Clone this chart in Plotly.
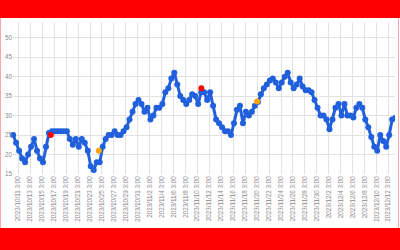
import plotly.graph_objects as go
import pandas as pd

# half-day readings starting 2023-10-10 06:00
values = [
    25, 23, 21, 19, 18, 20, 22, 24, 21, 19,
    18, 22, 25.5, 26, 26, 26, 26, 26, 26, 24,
    22.5, 24, 22, 24, 23, 21, 17, 16, 18, 18,
    22, 24, 25, 25, 26, 25, 25, 26, 27, 29,
    31, 33, 34, 33, 31, 32, 29, 30, 32, 32,
    33, 36, 37, 39.5, 41, 38, 35, 34, 33, 34,
    35.5, 35, 33, 36, 36, 34, 36, 32.5, 29, 28,
    27, 26, 26, 25, 28, 31.5, 32.5, 28, 31, 30,
    31, 32.5, 33.5, 35.5, 37, 38, 39, 39.5, 38.5, 37,
    38.5, 40, 41, 38.5, 37, 38, 39.5, 37.5, 36.5, 36.5,
    36, 34, 32, 30, 30, 29, 26.5, 29, 32, 33,
    30, 33, 30, 30, 29.5, 32, 33, 32, 29, 27,
    24.5, 22, 21, 25, 23.5, 22, 25, 29, 30,
]
start_time = "2023-10-10 06:00"

red_times = ["2023-10-16 13:20", "2023-11-10 18:40"]
red_values = [25, 37]
orange_times = ["2023-10-24 14:20", "2023-11-20 02:40"]
orange_values = [21, 33.6]

y_ticks = [15, 20, 25, 30, 35, 40, 45, 50]
tick_dates = pd.date_range("2023-10-11 03:00", "2023-12-12 03:00", freq="2D")
tick_text = [f"{d.year}/{d.month}/{d.day} {d.hour}:00" for d in tick_dates]

times = pd.date_range(start_time, periods=len(values), freq="12h")

blue = "#2160dc"
fig = go.Figure()
fig.add_trace(go.Scatter(
    x=times, y=values, mode="lines+markers",
    line=dict(color=blue, width=3),
    marker=dict(color=blue, size=6),
    cliponaxis=False, showlegend=False,
))
fig.add_trace(go.Scatter(
    x=pd.to_datetime(red_times), y=red_values, mode="markers",
    marker=dict(color="#ff0000", size=6), cliponaxis=False, showlegend=False,
))
fig.add_trace(go.Scatter(
    x=pd.to_datetime(orange_times), y=orange_values, mode="markers",
    marker=dict(color="#ffa500", size=6), cliponaxis=False, showlegend=False,
))

fig.update_layout(
    width=400, height=250,
    margin=dict(l=13, r=5, t=22, b=76),
    paper_bgcolor="white", plot_bgcolor="white",
    font=dict(family="Liberation Sans", color="#8a8a8a"),
    xaxis=dict(
        type="date",
        range=["2023-10-10 05:24", "2023-12-13 05:24"],
        tickvals=tick_dates, ticktext=tick_text,
        tickangle=-90, tickfont=dict(size=6.3, color="#8a8a8a"),
        showgrid=True, gridcolor="#e2e2e2", gridwidth=1,
        showline=False, zeroline=False, ticks="", ticklen=0,
    ),
    yaxis=dict(
        range=[15, 54.03], tickvals=y_ticks,
        tickfont=dict(size=6.3, color="#8a8a8a"),
        showgrid=True, gridcolor="#e2e2e2", gridwidth=1,
        showline=False, zeroline=False, ticks="", ticklen=0,
    ),
)

# red frame around the picture (pixel -> paper conversion)
def px_x(p):
    return (p - 13) / 382.0

def px_y(p):
    return (174.0 - p) / 152.0

fig.add_shape(type="rect", xref="paper", yref="paper",
              x0=px_x(-2), x1=px_x(402), y0=px_y(-2), y1=px_y(18),
              fillcolor="#ff0000", line=dict(width=0), layer="above")
fig.add_shape(type="rect", xref="paper", yref="paper",
              x0=px_x(-2), x1=px_x(402), y0=px_y(228), y1=px_y(252),
              fillcolor="#ff0000", line=dict(width=0), layer="above")
fig.add_shape(type="line", xref="paper", yref="paper",
              x0=px_x(0.5), x1=px_x(0.5), y0=px_y(18), y1=px_y(228),
              line=dict(color="rgba(255,0,0,0.35)", width=1), layer="above")
fig.add_shape(type="line", xref="paper", yref="paper",
              x0=px_x(398.5), x1=px_x(398.5), y0=px_y(18), y1=px_y(228),
              line=dict(color="rgba(255,0,0,0.35)", width=1), layer="above")

fig.write_html("out.html")
